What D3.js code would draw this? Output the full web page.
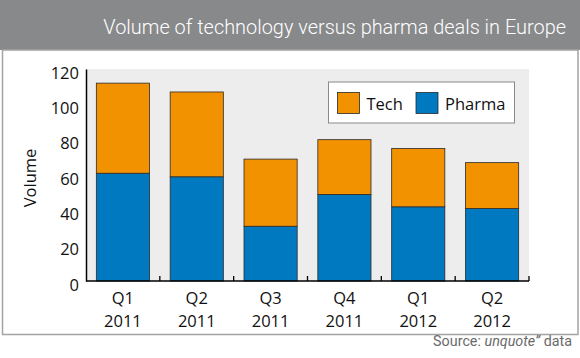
<!DOCTYPE html>
<html><head><meta charset="utf-8">
<script src="https://cdn.jsdelivr.net/npm/d3@7"></script>
<style>
html,body{margin:0;padding:0;background:#fff;}
svg{display:block;}
</style></head>
<body>
<svg id="c" width="580" height="358"></svg>
<script>
const quarters = ["Q1","Q2","Q3","Q4","Q1","Q2"];
const years = ["2011","2011","2011","2011","2012","2012"];
const pharma = [61, 59, 31, 49, 42, 41];
const tech = [51, 48, 38, 31, 33, 26];
const yTicks = [0,20,40,60,80,100,120];
const seriesNames = ["Tech","Pharma"];
const colors = {Tech:"#F39200", Pharma:"#0079C1"};

const svg = d3.select("#c");
const W = 580, H = 358;
const font = "'Open Sans', sans-serif";
const condFont = "'Roboto', 'DejaVu Sans', sans-serif";

// horizontally condense a right-anchored text to a target width
function condense(sel, rightX, targetW) {
  const w = sel.node().getComputedTextLength();
  const k = Math.min(1, targetW / w);
  sel.attr("x", 0).attr("transform", `translate(${rightX},${sel.attr("y")}) scale(${k},1)`).attr("y", 0);
}

// header
svg.append("rect").attr("x",0).attr("y",0).attr("width",W).attr("height",50).attr("fill","#88898b");
// frame
svg.append("rect").attr("x",2.5).attr("y",50).attr("width",575.5).attr("height",284.5)
  .attr("fill","#fff").attr("stroke","#a3a3a3").attr("stroke-width",1.5);

const title = svg.append("text").attr("y",33.5).attr("text-anchor","end")
  .attr("fill","#fff").attr("font-family",condFont).attr("font-weight",300).attr("font-size",21)
  .text("Volume of technology versus pharma deals in Europe");
condense(title, 566, 463);

const m = {l:86, r:529, t:69, b:281};
const x = d3.scaleBand().domain(d3.range(quarters.length)).range([m.l,m.r]).paddingInner(0.28).paddingOuter(0.14);
const y = d3.scaleLinear().domain([0,120]).range([m.b,m.t]);

svg.append("rect").attr("x",m.l).attr("y",m.t).attr("width",m.r-m.l).attr("height",m.b-m.t).attr("fill","#ededed");

const data = quarters.map((q,i)=>({i, Pharma:pharma[i], Tech:tech[i]}));
const stack = d3.stack().keys(["Pharma","Tech"])(data);
svg.append("g").selectAll("g").data(stack).join("g")
  .attr("fill",d=>colors[d.key])
  .selectAll("rect").data(d=>d).join("rect")
  .attr("x",d=>x(d.data.i)).attr("width",x.bandwidth())
  .attr("y",d=>y(d[1])).attr("height",d=>y(d[0])-y(d[1]))
  .attr("stroke","#2a2a2a").attr("stroke-width",0.8);

// y axis
const ya = svg.append("g").attr("transform",`translate(${m.l},0)`)
  .call(d3.axisLeft(y).tickValues(yTicks).tickSize(0).tickPadding(7));
ya.select(".domain").attr("stroke","#000").attr("stroke-width",1.5);
ya.selectAll("text").attr("font-family",font).attr("font-size",16.5).attr("fill","#111").attr("dy","0.55em");

// x axis line + ticks
const xa = svg.append("g");
xa.append("line").attr("x1",m.l).attr("x2",m.r).attr("y1",m.b).attr("y2",m.b).attr("stroke","#000").attr("stroke-width",1.5);
const tickX = d3.range(1, quarters.length+1).map(k => m.l + k*(m.r-m.l)/quarters.length);
xa.selectAll("line.t").data(tickX).join("line").attr("class","t")
  .attr("x1",d=>d).attr("x2",d=>d).attr("y1",m.b).attr("y2",m.b-5).attr("stroke","#000").attr("stroke-width",1.3);

const xl = svg.append("g").attr("font-family",font).attr("font-size",16.5).attr("fill","#111").attr("text-anchor","middle");
xl.selectAll("text.q").data(quarters).join("text").attr("class","q")
  .attr("x",(d,i)=>x(i)+x.bandwidth()/2).attr("y",304).text(d=>d);
xl.selectAll("text.yr").data(years).join("text").attr("class","yr")
  .attr("x",(d,i)=>x(i)+x.bandwidth()/2).attr("y",327).text(d=>d);

// y label
svg.append("text").attr("transform","translate(36,178) rotate(-90)").attr("text-anchor","middle")
  .attr("font-family",font).attr("font-size",16.5).attr("fill","#111").text("Volume");

// legend
const lg = svg.append("g");
lg.append("rect").attr("x",328.5).attr("y",82).attr("width",186).attr("height",41)
  .attr("fill","#fff").attr("stroke","#8a8a8a").attr("stroke-width",1);
const lx = [337.5, 416];
seriesNames.forEach((s,k)=>{
  lg.append("rect").attr("x",lx[k]).attr("y",92.5).attr("width",22).attr("height",21)
    .attr("fill",colors[s]).attr("stroke","#2a2a2a").attr("stroke-width",0.8);
  lg.append("text").attr("x",lx[k]+29).attr("y",109.5).attr("font-family",font).attr("font-size",16.5)
    .attr("fill","#111").text(s);
});

// source
const src = svg.append("text").attr("y",346).attr("text-anchor","end")
  .attr("font-family",condFont).attr("font-size",15).attr("fill","#6a6a6a");
src.append("tspan").text("Source: ");
src.append("tspan").attr("font-style","italic").text("unquote\u201D");
src.append("tspan").text(" data");
condense(src, 572, 139);
</script>
</body></html>
